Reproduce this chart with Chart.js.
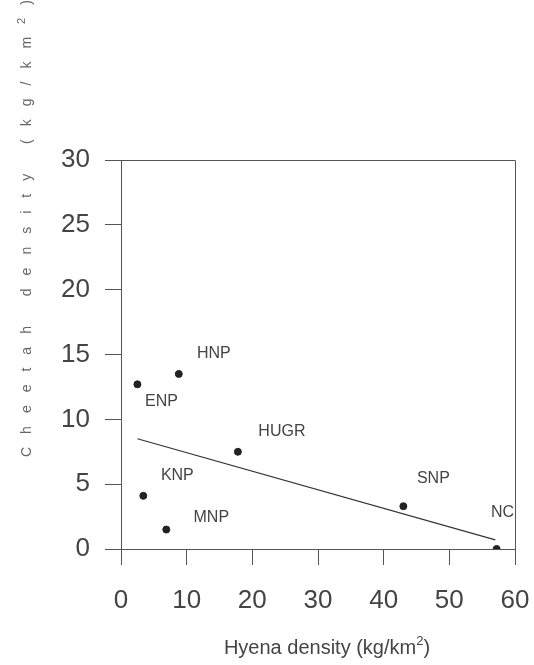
<!DOCTYPE html>
<html>
<head>
<meta charset="utf-8">
<script src="https://cdn.jsdelivr.net/npm/chart.js@4"></script>
<style>
  body { margin: 0; background: #fff; }
  canvas { display: block; }
</style>
</head>
<body>
<canvas id="c" width="534" height="665"></canvas>
<script>
// sites and densities
const sites = ['ENP', 'HNP', 'HUGR', 'KNP', 'MNP', 'SNP', 'NC'];
const hyenaDensity = [2.5, 8.8, 17.8, 3.4, 6.9, 43.0, 57.2];
const cheetahDensity = [12.7, 13.5, 7.5, 4.1, 1.5, 3.3, 0];
// regression line end points
const fitX = [2.5, 57.0];
const fitY = [8.5, 0.7];
const xTicks = [0, 10, 20, 30, 40, 50, 60];
const yTicks = [0, 5, 10, 15, 20, 25, 30];

// where each site name sits relative to its dot (px)
const labelOffset = {
    ENP: [24, 17], HNP: [35, -20], HUGR: [44, -20], KNP: [34, -20],
    MNP: [45, -12], SNP: [30, -28], NC: [6, -36]
};

const ink = '#444';
const fam = '"Liberation Sans", Arial, sans-serif';

const siteLabels = {
    id: 'siteLabels',
    afterDatasetsDraw(chart) {
        const ctx = chart.ctx;
        const meta = chart.getDatasetMeta(1);
        ctx.save();
        ctx.font = '16px ' + fam;
        ctx.fillStyle = ink;
        ctx.textAlign = 'center';
        ctx.textBaseline = 'middle';
        meta.data.forEach((pt, i) => {
            const o = labelOffset[sites[i]];
            ctx.fillText(sites[i], pt.x + o[0], pt.y + o[1]);
        });
        ctx.restore();
    }
};

const frame = {
    id: 'frame',
    afterDraw(chart) {
        const a = chart.chartArea;
        const ctx = chart.ctx;
        ctx.save();
        ctx.strokeStyle = '#555';
        ctx.lineWidth = 1;
        ctx.beginPath();
        ctx.moveTo(a.left, a.top + 0.5);
        ctx.lineTo(a.right + 0.5, a.top + 0.5);
        ctx.lineTo(a.right + 0.5, a.bottom);
        ctx.stroke();

        // x title, sits a little right of centre in the scan
        ctx.fillStyle = ink;
        ctx.textBaseline = 'middle';
        const main = 'Hyena density (kg/km';
        ctx.font = '20px ' + fam;
        const w1 = ctx.measureText(main).width;
        ctx.font = '13px ' + fam;
        const w2 = ctx.measureText('2').width;
        ctx.font = '20px ' + fam;
        const w3 = ctx.measureText(')').width;
        let tx = 327 - (w1 + w2 + w3) / 2;
        ctx.fillText(main, tx, 648);
        ctx.font = '13px ' + fam;
        ctx.fillText('2', tx + w1, 641);
        ctx.font = '20px ' + fam;
        ctx.fillText(')', tx + w1 + w2, 648);

        // spaced-out y title, as in the scan
        ctx.font = '14px ' + fam;
        ctx.fillStyle = '#666';
        ctx.translate(27, 457);
        ctx.rotate(-Math.PI / 2);
        let x = 0;
        for (const ch of 'Cheetah density (kg/km2)') {
            if (ch === '2') {
                ctx.font = '11px ' + fam;
                ctx.fillText(ch, x, -5);
                x += ctx.measureText(ch).width + 13;
                ctx.font = '14px ' + fam;
                continue;
            }
            ctx.fillText(ch, x, 0);
            x += ctx.measureText(ch).width + 13;
        }
        ctx.restore();
    }
};

new Chart(document.getElementById('c'), {
    data: {
        datasets: [{
            type: 'line',
            data: fitX.map((x, i) => ({ x: x, y: fitY[i] })),
            borderColor: '#333',
            borderWidth: 1.2,
            pointRadius: 0,
            fill: false
        }, {
            type: 'scatter',
            data: hyenaDensity.map((x, i) => ({ x: x, y: cheetahDensity[i] })),
            backgroundColor: '#222',
            borderColor: '#222',
            pointRadius: 3.5
        }]
    },
    options: {
        responsive: false,
        animation: false,
        layout: { padding: { top: 160, right: 19 } },
        plugins: { legend: { display: false }, tooltip: { enabled: false } },
        scales: {
            x: {
                type: 'linear',
                min: 0, max: 60,
                afterBuildTicks: s => { s.ticks = xTicks.map(v => ({ value: v })); },
                afterFit: s => { s.height = 116; s.paddingLeft = 0; s.paddingRight = 0; },
                grid: { drawOnChartArea: false, tickLength: 16, color: '#555' },
                border: { color: '#555' },
                ticks: { color: ink, padding: 20, maxRotation: 0,
                         font: { size: 26, family: fam } }
            },
            y: {
                min: 0, max: 30,
                afterBuildTicks: s => { s.ticks = yTicks.map(v => ({ value: v })); },
                afterFit: s => { s.width = 121; s.paddingTop = 0; s.paddingBottom = 0; },
                grid: { drawOnChartArea: false, tickLength: 16, color: '#555' },
                border: { color: '#555' },
                ticks: { color: ink, padding: 15,
                         font: { size: 26, family: fam } }
            }
        }
    },
    plugins: [siteLabels, frame]
});
</script>
</body>
</html>
